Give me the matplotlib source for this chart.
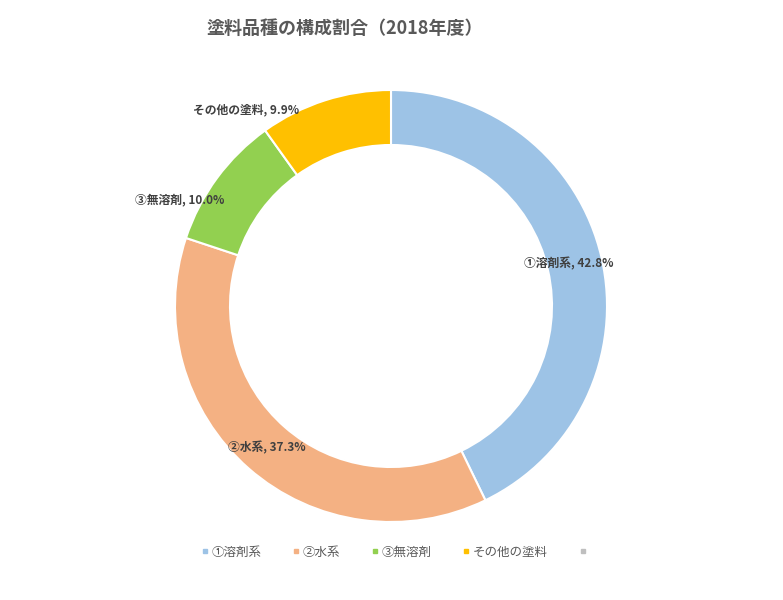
import matplotlib
matplotlib.use("Agg")
import matplotlib.pyplot as plt
from matplotlib.lines import Line2D
import numpy as np

plt.rcParams['font.family'] = ['Noto Sans CJK JP', 'DejaVu Sans']

title = "塗料品種の構成割合（2018年度）"
categories = ["①溶剤系", "②水系", "③無溶剤", "その他の塗料", ""]
values = [42.8, 37.3, 10.0, 9.9, 0.0]
colors = ["#9DC3E6", "#F4B183", "#92D050", "#FFC000", "#BFBFBF"]

W, H = 783, 600
fig = plt.figure(figsize=(W / 100, H / 100), dpi=100)
cx, cy, R = 391, 306, 216
ax = fig.add_axes([(cx - R) / W, (H - cy - R) / H, 2 * R / W, 2 * R / H])

draw = [(v, c) for v, c in zip(values, colors) if v > 0]
inner = 161 / 216
wedges, _ = ax.pie([d[0] for d in draw], colors=[d[1] for d in draw],
                   startangle=90, counterclock=False, radius=1,
                   wedgeprops=dict(width=1 - inner, edgecolor="white", linewidth=1.5))
ax.set_xlim(-1, 1)
ax.set_ylim(-1, 1)
ax.set_aspect("equal")
ax.axis("off")

# data labels at ring middle (with shifts for crowded small slices)
total = sum(values)
cum = np.cumsum([0] + values[:-1])
rmid = (1 + inner) / 2
shifts = {0: (-4, 0), 2: (-43, -4), 3: (-63, 12)}
for i, (cat, v) in enumerate(zip(categories, values)):
    if v <= 0:
        continue
    mid = (cum[i] + v / 2) / total * 360
    ang = np.deg2rad(90 - mid)
    x, y = rmid * np.cos(ang), rmid * np.sin(ang)
    dx, dy = shifts.get(i, (0, 0))
    ax.annotate(f"{cat}, {v:.1f}%", (x, y), xytext=(dx, dy), textcoords="offset points",
                ha="center", va="center", fontsize=8.5, fontweight="semibold", color="#404040")

fig.text(345 / W, 1 - 28 / H, title, ha="center", va="center",
         fontsize=13, fontweight="bold", color="#595959")

handles = [Line2D([], [], marker="s", linestyle="none", markersize=3.5,
                  markerfacecolor=c, markeredgecolor=c) for c in colors]
fig.legend(handles, categories, loc="center", bbox_to_anchor=(394 / W, 1 - 552 / H),
           ncol=5, frameon=False, fontsize=9, labelcolor="#595959",
           handletextpad=0.0, columnspacing=2.3, handlelength=1.0)

fig.savefig("out.png", dpi=100, facecolor="white")
